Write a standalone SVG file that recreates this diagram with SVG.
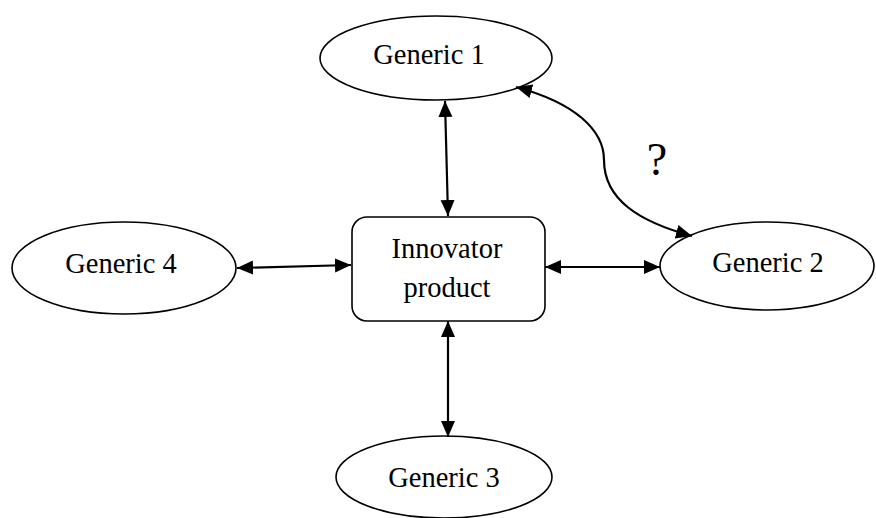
<svg xmlns="http://www.w3.org/2000/svg" width="876" height="518" viewBox="0 0 876 518">
<style>
.node{fill:#fff;stroke:#000;stroke-width:1.6}
.lbl{font-family:"Liberation Serif","Times New Roman",serif;font-size:28.5px;fill:#000;text-anchor:middle}
.conn{fill:none;stroke:#000;stroke-width:2.2;marker-start:url(#ah);marker-end:url(#ah)}
</style>
<defs>
<marker id="ah" markerUnits="userSpaceOnUse" markerWidth="18" markerHeight="16" refX="16" refY="7" orient="auto-start-reverse" viewBox="0 0 18 16">
<path d="M0,0 L16,7 L0,14 z" fill="#000"/>
</marker>
</defs>
<g id="generic1"><ellipse class="node" cx="436" cy="58" rx="116" ry="42"/><text class="lbl" x="429" y="64">Generic 1</text></g>
<g id="generic4"><ellipse class="node" cx="124" cy="268" rx="112" ry="46"/><text class="lbl" x="121" y="273">Generic 4</text></g>
<g id="generic2"><ellipse class="node" cx="767" cy="266" rx="107" ry="44"/><text class="lbl" x="768" y="272">Generic 2</text></g>
<g id="generic3"><ellipse class="node" cx="444" cy="477" rx="108" ry="41"/><text class="lbl" x="444" y="487">Generic 3</text></g>
<g id="innovator"><rect class="node" x="352" y="217" width="193" height="104" rx="15"/><text class="lbl" x="447" y="258">Innovator</text><text class="lbl" x="447" y="297">product</text></g>
<g id="connectors">
<line class="conn" x1="445" y1="101" x2="448" y2="216"/>
<line class="conn" x1="448" y1="321" x2="448" y2="437"/>
<line class="conn" x1="237" y1="268" x2="351" y2="265"/>
<line class="conn" x1="545" y1="267" x2="660" y2="267"/>
<path class="conn" d="M516,87 C575,103 604,130 604,160 C604,200 640,222 692,236"/>
</g>
<text x="657" y="175" style="font-family:'Liberation Serif','Times New Roman',serif;font-size:46px;text-anchor:middle">?</text>
</svg>
